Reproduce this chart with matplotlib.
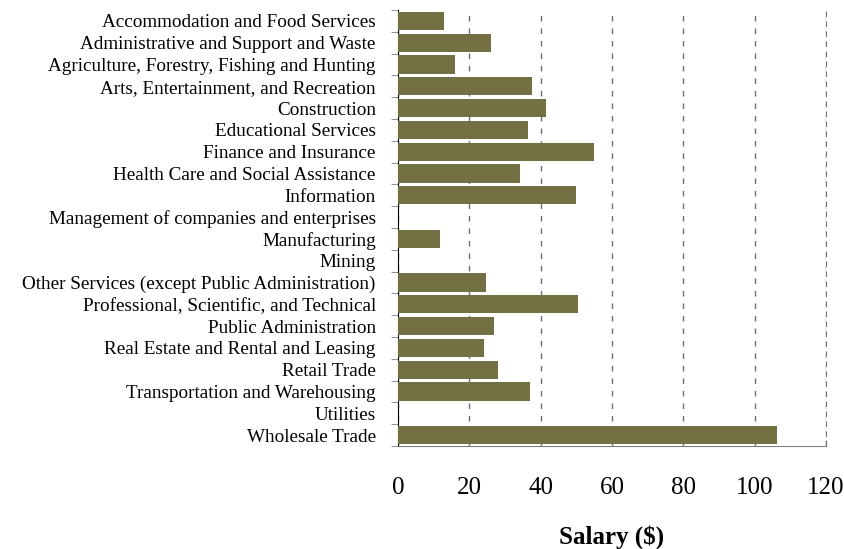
import numpy as np
import matplotlib.pyplot as plt

industries = [
    "Accommodation and Food Services",
    "Administrative and Support and Waste",
    "Agriculture, Forestry, Fishing and Hunting",
    "Arts, Entertainment, and Recreation",
    "Construction",
    "Educational Services",
    "Finance and Insurance",
    "Health Care and Social Assistance",
    "Information",
    "Management of companies and enterprises",
    "Manufacturing",
    "Mining",
    "Other Services (except Public Administration)",
    "Professional, Scientific, and Technical",
    "Public Administration",
    "Real Estate and Rental and Leasing",
    "Retail Trade",
    "Transportation and Warehousing",
    "Utilities",
    "Wholesale Trade",
]
salaries = [13, 26, 16, 37.5, 41.5, 36.4, 54.9, 34.2, 49.9, 0,
            11.8, 0, 24.6, 50.4, 26.9, 24.1, 28, 37, 0, 106.4]
xticks = [0, 20, 40, 60, 80, 100, 120]

plt.rcParams['font.family'] = ['Liberation Serif', 'DejaVu Serif']

fig = plt.figure(figsize=(8.45, 5.49), dpi=100)
ax = fig.add_axes([0.471, 0.1876, 0.5065, 0.7942])

pos = np.arange(len(industries))
ax.barh(pos, salaries, height=0.84, color="#737144", zorder=3)

ax.set_xlim(0, 120)
ax.set_ylim(len(industries) - 0.5, -0.5)

ax.set_xticks(xticks)
ax.tick_params(axis='x', direction='in', length=4, pad=22, labelsize=18, color='#808080')
ax.xaxis.grid(True, linestyle=(0, (4, 5)), color='#707070', linewidth=1, zorder=1)

ax.set_yticks(pos)
ax.set_yticklabels(industries, fontsize=13.8)
ax.set_yticks(np.arange(len(industries) + 1) - 0.5, minor=True)
ax.tick_params(axis='y', which='major', length=0, pad=16)
ax.tick_params(axis='y', which='minor', length=5, color='#808080')

ax.spines['top'].set_visible(False)
ax.spines['right'].set_linestyle((0, (4, 5)))
ax.spines['right'].set_color('#707070')
ax.spines['left'].set_color('black')
ax.spines['bottom'].set_color('#808080')

ax.set_xlabel("Salary ($)", fontsize=18, fontweight='bold', labelpad=19)

fig.savefig("out.png", dpi=100)
